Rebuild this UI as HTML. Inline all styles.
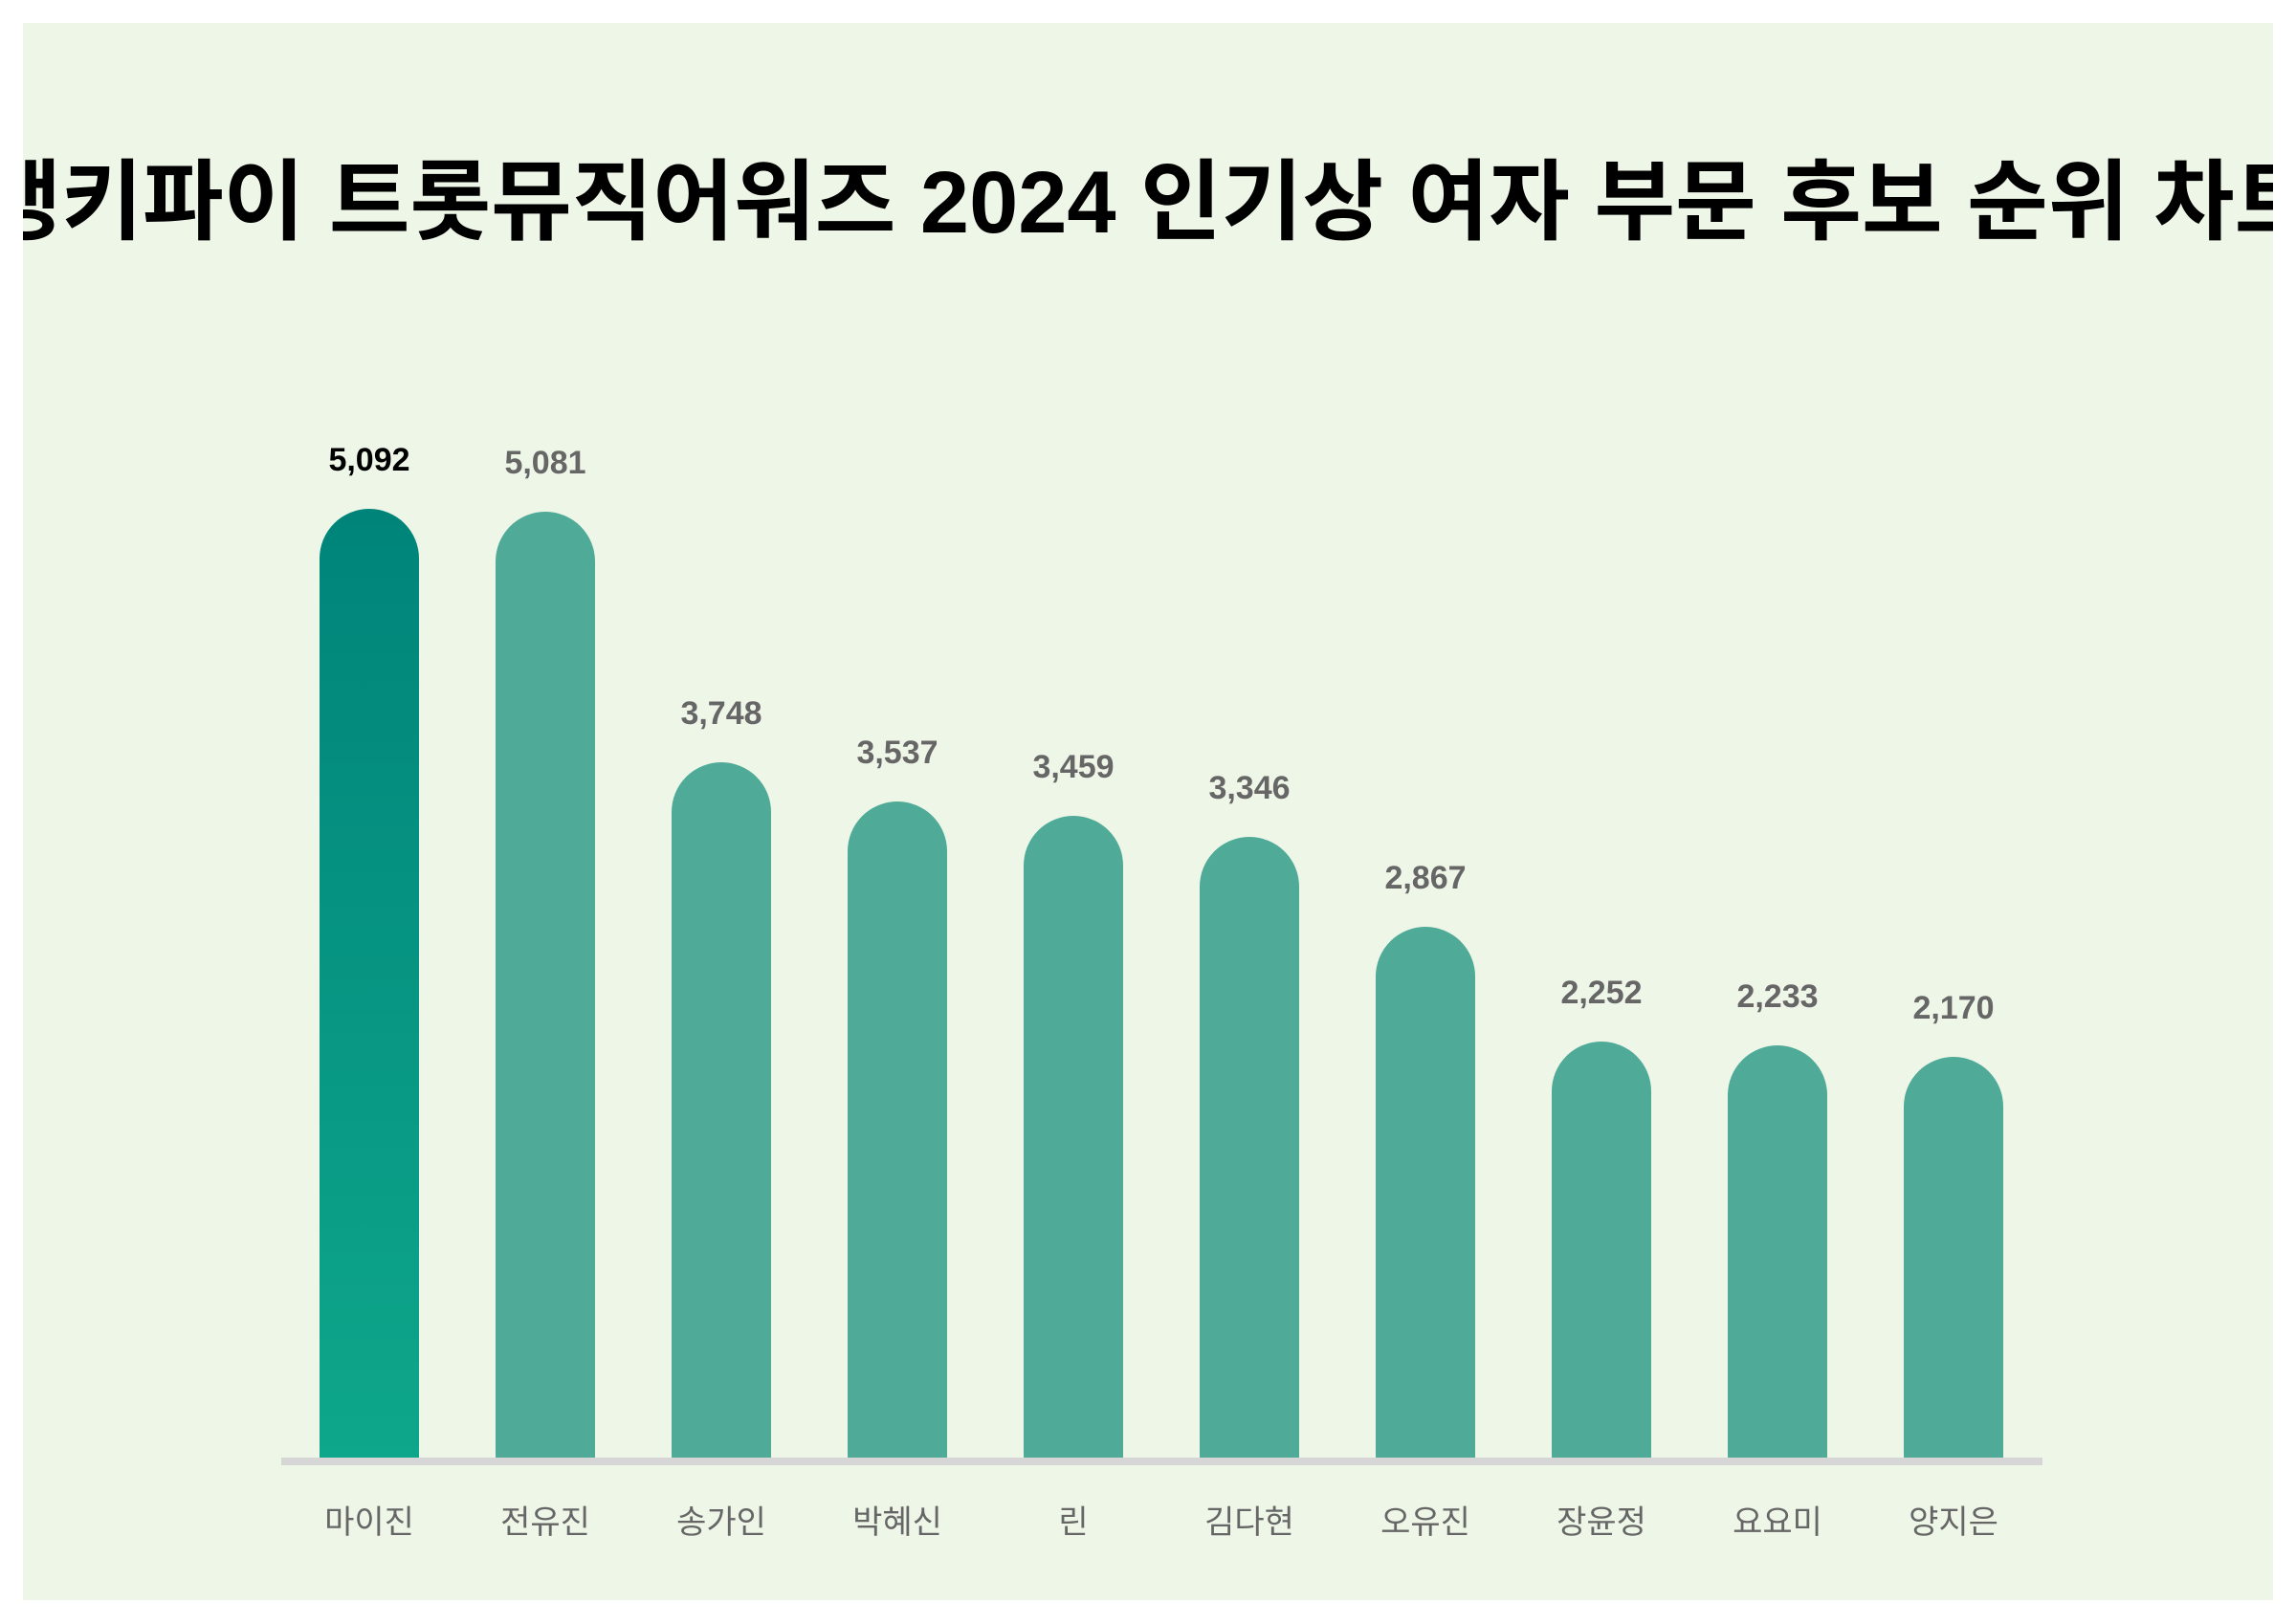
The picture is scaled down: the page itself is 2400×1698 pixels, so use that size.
<!DOCTYPE html>
<html><head><meta charset="utf-8"><style>
html,body{margin:0;padding:0;background:#fff;}
svg{display:block;}
</style></head><body>
<svg width="2400" height="1698" viewBox="0 0 2400 1698" xmlns="http://www.w3.org/2000/svg">
<defs>
<linearGradient id="g1" x1="0" y1="0" x2="0" y2="1">
<stop offset="0" stop-color="#00847a"/><stop offset="1" stop-color="#0ea78b"/>
</linearGradient>
<clipPath id="pc"><rect x="24" y="24" width="2352" height="1649"/></clipPath>
</defs>
<rect x="24" y="24" width="2352" height="1649" fill="#eef6e8"/>
<g clip-path="url(#pc)">
<text x="1200" y="243" text-anchor="middle" font-family="'Liberation Sans','Noto Sans CJK KR',sans-serif" font-weight="bold" font-size="92" fill="#000">랭키파이 트롯뮤직어워즈 2024 인기상 여자 부문 후보 순위 차트</text>
</g>
<rect x="294" y="1524" width="1841" height="8" fill="#d6d6d6"/>
<g font-family="'Liberation Sans','Noto Sans CJK KR',sans-serif" text-anchor="middle">
<path d="M334 1524 V584 A52 52 0 0 1 438 584 V1524 Z" fill="url(#g1)"/>
<text x="386" y="492" font-size="34" font-weight="bold" fill="#000">5,092</text>
<text x="386" y="1603" font-size="34" fill="#666">마이진</text>
</g>
<g font-family="'Liberation Sans','Noto Sans CJK KR',sans-serif" text-anchor="middle" fill="#666">
<path d="M518 1524 V587 A52 52 0 0 1 622 587 V1524 Z" fill="#50aa98"/>
<text x="570" y="495" font-size="34" font-weight="bold">5,081</text>
<text x="570" y="1603" font-size="34">전유진</text>
<path d="M702 1524 V849 A52 52 0 0 1 806 849 V1524 Z" fill="#50aa98"/>
<text x="754" y="757" font-size="34" font-weight="bold">3,748</text>
<text x="754" y="1603" font-size="34">송가인</text>
<path d="M886 1524 V890 A52 52 0 0 1 990 890 V1524 Z" fill="#50aa98"/>
<text x="938" y="798" font-size="34" font-weight="bold">3,537</text>
<text x="938" y="1603" font-size="34">박혜신</text>
<path d="M1070 1524 V905 A52 52 0 0 1 1174 905 V1524 Z" fill="#50aa98"/>
<text x="1122" y="813" font-size="34" font-weight="bold">3,459</text>
<text x="1122" y="1603" font-size="34">린</text>
<path d="M1254 1524 V927 A52 52 0 0 1 1358 927 V1524 Z" fill="#50aa98"/>
<text x="1306" y="835" font-size="34" font-weight="bold">3,346</text>
<text x="1306" y="1603" font-size="34">김다현</text>
<path d="M1438 1524 V1021 A52 52 0 0 1 1542 1021 V1524 Z" fill="#50aa98"/>
<text x="1490" y="929" font-size="34" font-weight="bold">2,867</text>
<text x="1490" y="1603" font-size="34">오유진</text>
<path d="M1622 1524 V1141 A52 52 0 0 1 1726 1141 V1524 Z" fill="#50aa98"/>
<text x="1674" y="1049" font-size="34" font-weight="bold">2,252</text>
<text x="1674" y="1603" font-size="34">장윤정</text>
<path d="M1806 1524 V1145 A52 52 0 0 1 1910 1145 V1524 Z" fill="#50aa98"/>
<text x="1858" y="1053" font-size="34" font-weight="bold">2,233</text>
<text x="1858" y="1603" font-size="34">요요미</text>
<path d="M1990 1524 V1157 A52 52 0 0 1 2094 1157 V1524 Z" fill="#50aa98"/>
<text x="2042" y="1065" font-size="34" font-weight="bold">2,170</text>
<text x="2042" y="1603" font-size="34">양지은</text>
</g>
</svg>
</body></html>
